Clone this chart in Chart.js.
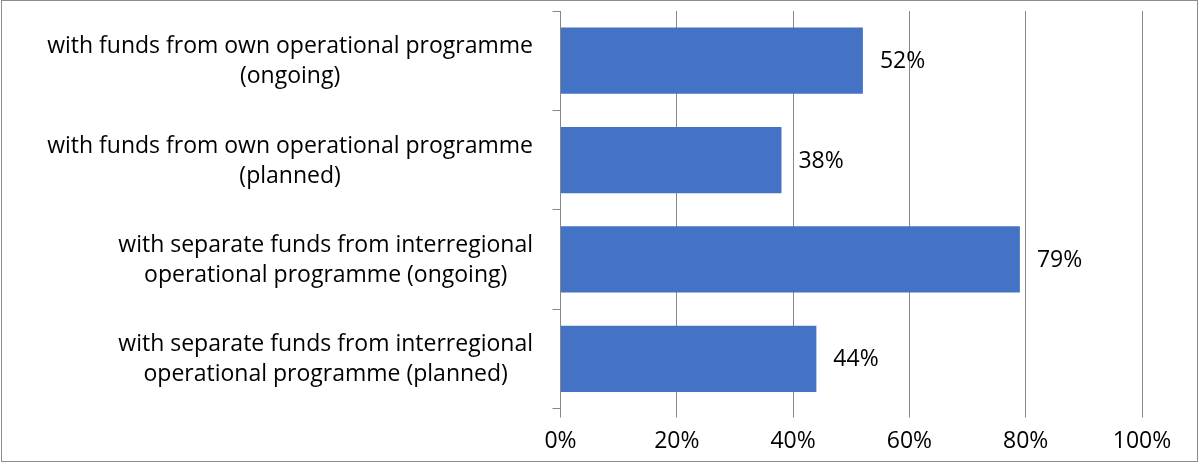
<!DOCTYPE html>
<html>
<head>
<meta charset="utf-8">
<script src="https://cdn.jsdelivr.net/npm/chart.js@4.4.1/dist/chart.umd.min.js"></script>
<style>
  html, body { margin: 0; padding: 0; background: #fff; }
  #wrap { position: relative; width: 1199px; height: 463px; }
</style>
</head>
<body>
<div id="wrap"><canvas id="mainChart" width="1199" height="463"></canvas></div>
<script>
// categories, one array of lines per bar
const categories = [
  ['with funds from own operational programme', '(ongoing)'],
  ['with funds from own operational programme', '(planned)'],
  ['with separate funds from interregional', 'operational programme (ongoing)'],
  ['with separate funds from interregional', 'operational programme (planned)']
];
const shares = [52, 38, 79, 44];
const xTicks = [0, 20, 40, 60, 80, 100];

const FONT = '"Open Sans", "DejaVu Sans", sans-serif';
const FONT_SIZE = 23;
const TEXT = '#000';
const GRID = '#878787';

// frame around the whole picture
const framePlugin = {
  id: 'frame',
  afterDraw(chart) {
    const ctx = chart.ctx;
    ctx.save();
    ctx.strokeStyle = '#8c8c8c';
    ctx.lineWidth = 1;
    ctx.strokeRect(1.5, 0.5, 1196, 461);
    ctx.restore();
  }
};

// value labels to the right of each bar
const valueLabels = {
  id: 'valueLabels',
  afterDatasetsDraw(chart) {
    const ctx = chart.ctx;
    const meta = chart.getDatasetMeta(0);
    ctx.save();
    ctx.font = `${FONT_SIZE}px ${FONT}`;
    ctx.fillStyle = TEXT;
    ctx.textAlign = 'left';
    ctx.textBaseline = 'middle';
    meta.data.forEach((bar, i) => {
      ctx.fillText(shares[i] + '%', bar.x + 17, bar.y + 1);
    });
    ctx.restore();
  }
};

// category text: block right-aligned to the axis, lines centred inside it
const categoryLabels = {
  id: 'categoryLabels',
  afterDraw(chart) {
    const ctx = chart.ctx;
    const y = chart.scales.y;
    const right = 533;
    ctx.save();
    ctx.font = `${FONT_SIZE}px ${FONT}`;
    ctx.fillStyle = TEXT;
    ctx.textAlign = 'center';
    ctx.textBaseline = 'middle';
    categories.forEach((lines, i) => {
      const w = Math.max(...lines.map(l => ctx.measureText(l).width));
      const cx = right - w / 2;
      const cy = y.getPixelForValue(i) + 1;
      lines.forEach((l, k) => {
        ctx.fillText(l, cx, cy + (k - (lines.length - 1) / 2) * 30);
      });
    });
    ctx.restore();
  }
};

const chart = new Chart(document.getElementById('mainChart').getContext('2d'), {
  type: 'bar',
  data: {
    labels: categories.map(c => c.join(' ')),
    datasets: [{
      data: shares,
      backgroundColor: '#4472C4',
      borderWidth: 0,
      barPercentage: 0.667,
      categoryPercentage: 1
    }]
  },
  options: {
    indexAxis: 'y',
    responsive: false,
    animation: false,
    events: [],
    layout: { padding: { top: 11, right: 57, left: 0, bottom: 0 } },
    plugins: { legend: { display: false }, tooltip: { enabled: false } },
    scales: {
      x: {
        min: 0,
        max: 100,
        afterBuildTicks(scale) {
          scale.ticks = xTicks.map(v => ({ value: v }));
        },
        ticks: {
          color: TEXT,
          font: { family: FONT, size: FONT_SIZE },
          padding: 10,
          callback: v => v + '%'
        },
        grid: { color: GRID, lineWidth: 1, tickLength: 9, drawTicks: true },
        border: { display: false },
        afterFit(scale) { scale.height = 54.5; }
      },
      y: {
        offset: true,
        ticks: { display: false },
        grid: { offset: true, drawOnChartArea: false, color: GRID, tickLength: 8 },
        border: { display: true, color: GRID, width: 1 },
        afterFit(scale) { scale.width = 560.5; }
      }
    }
  },
  plugins: [valueLabels, categoryLabels, framePlugin]
});
</script>
</body>
</html>
